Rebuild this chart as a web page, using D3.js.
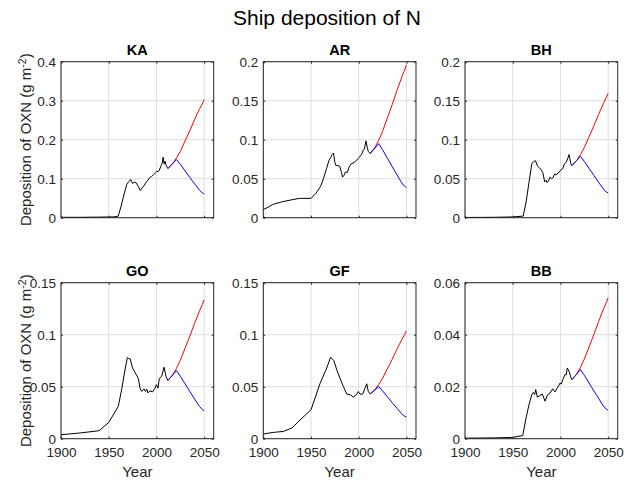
<!DOCTYPE html>
<html><head><meta charset="utf-8">
<script src="https://cdn.jsdelivr.net/npm/d3@7"></script>
<style>
body{margin:0;background:#fff}
svg{display:block}
text{font-family:"Liberation Sans",Arial,Helvetica,sans-serif}
</style>
</head><body>
<svg id="chart" width="624" height="483"></svg>
<script>
// ---------- data ----------
const chartTitle = "Ship deposition of N";
const regions = ["KA", "AR", "BH", "GO", "GF", "BB"];
const yMaxes = [0.4, 0.2, 0.2, 0.15, 0.15, 0.06];
const yTicksKA = [0, 0.1, 0.2, 0.3, 0.4];
const yTicksAR = [0, 0.05, 0.1, 0.15, 0.2];
const yTicksBH = [0, 0.05, 0.1, 0.15, 0.2];
const yTicksGO = [0, 0.05, 0.1, 0.15];
const yTicksGF = [0, 0.05, 0.1, 0.15];
const yTicksBB = [0, 0.02, 0.04, 0.06];
const xDomain = [1900, 2060];
const xTicks = [1900, 1950, 2000, 2050];
const yLabel = "Deposition of OXN (g m";
const yLabelSup = "-2";
const xLabel = "Year";

const histYearsKA = [1900,1920,1940,1955,1960,1963,1966,1969,1971,1973,1975,1977,1979,1981,1983,1985,1987,1989,1991,1993,1995,1997,1999,2000,2002,2003,2005,2006,2007,2008,2009,2010,2012];
const histValuesKA = [0.001,0.001,0.0015,0.002,0.004,0.03,0.06,0.086,0.092,0.098,0.088,0.091,0.089,0.08,0.07,0.076,0.082,0.09,0.096,0.103,0.106,0.11,0.116,0.119,0.118,0.122,0.134,0.14,0.155,0.138,0.145,0.135,0.126];

const histYearsAR = [1900,1905,1910,1920,1930,1938,1950,1955,1960,1963,1966,1969,1971,1972,1973.5,1975,1976,1978,1980,1982,1983,1985,1986,1988,1990,1992,1994,1996,1998,2000,2001,2002,2003,2005,2006,2007.5,2009,2010,2012];
const histValuesAR = [0.0103,0.0135,0.017,0.0205,0.023,0.0248,0.0248,0.031,0.040,0.05,0.062,0.074,0.078,0.081,0.083,0.071,0.067,0.067,0.066,0.058,0.052,0.055,0.0586,0.058,0.065,0.069,0.070,0.0715,0.074,0.077,0.078,0.080,0.081,0.0875,0.088,0.0985,0.09,0.085,0.0823];

const histYearsBH = [1900,1930,1950,1961,1964,1967,1970,1972,1974,1976,1978,1980,1981.5,1983.5,1985,1986,1987.5,1989,1990.5,1992,1994,1996,1998,2000,2001,2002.5,2004,2006,2008,2009,2010,2011,2012];
const histValuesBH = [0.0003,0.0005,0.001,0.002,0.02,0.045,0.069,0.072,0.073,0.066,0.064,0.061,0.058,0.046,0.048,0.045,0.047,0.052,0.05,0.051,0.056,0.055,0.058,0.06,0.062,0.063,0.069,0.071,0.077,0.081,0.075,0.069,0.0668];

const histYearsGO = [1900,1920,1940,1950,1960,1963.5,1967,1969.5,1971,1972.5,1975,1979,1981,1983,1984.5,1987,1988.5,1990,1991,1993,1996,1998.5,2000,2001.7,2003,2005.5,2008,2010,2012];
const histValuesGO = [0.0038,0.0055,0.0077,0.0156,0.031,0.047,0.066,0.078,0.077,0.0768,0.068,0.0614,0.058,0.0477,0.0454,0.048,0.0454,0.0475,0.044,0.046,0.045,0.0486,0.052,0.0486,0.058,0.06,0.0688,0.0598,0.056];

const histYearsGF = [1900,1910,1921,1930,1938.5,1950,1959.4,1966.4,1970.5,1974,1977,1980.4,1984,1987.4,1991.6,1994.3,1997.2,1999.6,2001.4,2004.2,2006.6,2008.4,2010,2012];
const histValuesGF = [0.0045,0.006,0.007,0.0103,0.018,0.0278,0.053,0.0678,0.0784,0.075,0.066,0.058,0.05,0.043,0.042,0.040,0.042,0.0454,0.0428,0.043,0.0486,0.0528,0.0454,0.043];

const histYearsBB = [1900,1930,1950,1960.5,1964,1967,1970,1971.6,1973,1974.1,1975.8,1978.6,1981,1983.9,1986.3,1989.1,1992,1994.3,1996.8,1999.6,2001,2002.4,2004.8,2006,2007.2,2009.4,2011,2012];
const histValuesBB = [0.0002,0.0003,0.0005,0.0012,0.008,0.013,0.017,0.0178,0.017,0.0189,0.016,0.0166,0.0172,0.0144,0.0168,0.0176,0.0192,0.018,0.0195,0.0214,0.021,0.0227,0.0247,0.0245,0.0272,0.0256,0.0235,0.0227];

const projYears = [2012, 2017, 2021, 2025, 2030, 2035, 2040, 2045, 2048, 2050];
const redKA  = [0.126, 0.138, 0.153, 0.170, 0.197, 0.223, 0.252, 0.278, 0.292, 0.303];
const blueKA = [0.126, 0.139, 0.149, 0.137, 0.120, 0.103, 0.087, 0.071, 0.064, 0.061];
const redAR  = [0.0823, 0.0903, 0.0994, 0.1107, 0.1278, 0.1448, 0.1630, 0.1801, 0.1892, 0.196];
const blueAR = [0.0823, 0.0893, 0.095, 0.0871, 0.0764, 0.0657, 0.0550, 0.0448, 0.0403, 0.0386];
const redBH  = [0.0668, 0.0733, 0.0807, 0.09, 0.1038, 0.1177, 0.1325, 0.1464, 0.1538, 0.1594];
const blueBH = [0.0668, 0.0734, 0.0788, 0.0722, 0.0632, 0.0543, 0.0453, 0.0368, 0.033, 0.0316];
const redGO  = [0.056, 0.0614, 0.0676, 0.0754, 0.087, 0.0986, 0.111, 0.1226, 0.1288, 0.1334];
const blueGO = [0.056, 0.0612, 0.0655, 0.0601, 0.0528, 0.0454, 0.0381, 0.0311, 0.0281, 0.0269];
const redGF  = [0.043, 0.0472, 0.0521, 0.0582, 0.0672, 0.0763, 0.086, 0.0951, 0.1, 0.1036];
const blueGF = [0.043, 0.0469, 0.050, 0.0459, 0.0404, 0.0348, 0.0293, 0.024, 0.0217, 0.0208];
const redBB  = [0.0227, 0.0249, 0.0274, 0.0306, 0.0353, 0.0400, 0.0451, 0.0498, 0.0523, 0.0542];
const blueBB = [0.0227, 0.0248, 0.0266, 0.0244, 0.0214, 0.0184, 0.0155, 0.0126, 0.0114, 0.0109];

// ---------- assemble ----------
const panels = [
  {name: regions[0], yMax: yMaxes[0], yTicks: yTicksKA, hy: histYearsKA, hv: histValuesKA, red: redKA, blue: blueKA},
  {name: regions[1], yMax: yMaxes[1], yTicks: yTicksAR, hy: histYearsAR, hv: histValuesAR, red: redAR, blue: blueAR},
  {name: regions[2], yMax: yMaxes[2], yTicks: yTicksBH, hy: histYearsBH, hv: histValuesBH, red: redBH, blue: blueBH},
  {name: regions[3], yMax: yMaxes[3], yTicks: yTicksGO, hy: histYearsGO, hv: histValuesGO, red: redGO, blue: blueGO},
  {name: regions[4], yMax: yMaxes[4], yTicks: yTicksGF, hy: histYearsGF, hv: histValuesGF, red: redGF, blue: blueGF},
  {name: regions[5], yMax: yMaxes[5], yTicks: yTicksBB, hy: histYearsBB, hv: histValuesBB, red: redBB, blue: blueBB}
];

// ---------- layout ----------
const colLeft = [61, 263.3, 465];
const rowTop = [61.7, 282.7];
const plotW = 152.7;
const plotH = 156;
const axisColor = "#262626";
const gridColor = "#dedede";

const svg = d3.select("#chart");

svg.append("text")
  .attr("x", 327).attr("y", 25)
  .attr("text-anchor", "middle")
  .attr("font-size", 21)
  .attr("fill", "#000")
  .text(chartTitle);

panels.forEach((p, i) => {
  const col = i % 3, row = Math.floor(i / 3);
  const g = svg.append("g").attr("transform", `translate(${colLeft[col]},${rowTop[row]})`);
  const x = d3.scaleLinear().domain(xDomain).range([0, plotW]);
  const y = d3.scaleLinear().domain([0, p.yMax]).range([plotH, 0]);

  // grid
  g.append("g").selectAll("line").data(xTicks).join("line")
    .attr("x1", d => x(d)).attr("x2", d => x(d))
    .attr("y1", 0).attr("y2", plotH)
    .attr("stroke", gridColor).attr("stroke-width", 1);
  g.append("g").selectAll("line").data(p.yTicks).join("line")
    .attr("x1", 0).attr("x2", plotW)
    .attr("y1", d => y(d)).attr("y2", d => y(d))
    .attr("stroke", gridColor).attr("stroke-width", 1);

  // data lines
  const line = d3.line().x(d => x(d[0])).y(d => y(d[1]));
  const hist = p.hy.map((yr, k) => [yr, p.hv[k]]);
  const red = projYears.map((yr, k) => [yr, p.red[k]]);
  const blue = projYears.map((yr, k) => [yr, p.blue[k]]);
  g.append("path").attr("d", line(hist)).attr("fill", "none").attr("stroke", "#000").attr("stroke-width", 1);
  g.append("path").attr("d", line(red)).attr("fill", "none").attr("stroke", "#ff0000").attr("stroke-width", 1);
  g.append("path").attr("d", line(blue)).attr("fill", "none").attr("stroke", "#0000ff").attr("stroke-width", 1);

  // axes
  const fontSize = 13.5;
  const xb = d3.axisBottom(x).tickValues(xTicks).tickSize(-2).tickPadding(9)
    .tickFormat(row === 1 ? d3.format("d") : () => "");
  const xt = d3.axisTop(x).tickValues(xTicks).tickSize(-2).tickFormat(() => "");
  const yl = d3.axisLeft(y).tickValues(p.yTicks).tickSize(-2).tickPadding(5).tickFormat(d => String(d));
  const yr = d3.axisRight(y).tickValues(p.yTicks).tickSize(-2).tickFormat(() => "");

  const styleAxis = sel => {
    sel.select(".domain").remove();
    sel.selectAll("line").attr("stroke", axisColor);
    sel.selectAll("text").attr("fill", axisColor).attr("font-size", fontSize)
      .attr("font-family", '"Liberation Sans",Arial,Helvetica,sans-serif');
  };
  g.append("g").attr("transform", `translate(0,${plotH})`).call(xb).call(styleAxis);
  g.append("g").call(xt).call(styleAxis);
  g.append("g").call(yl).call(styleAxis);
  g.append("g").attr("transform", `translate(${plotW},0)`).call(yr).call(styleAxis);

  // box
  g.append("rect").attr("x", 0).attr("y", 0).attr("width", plotW).attr("height", plotH)
    .attr("fill", "none").attr("stroke", axisColor).attr("stroke-width", 1);

  // panel title
  g.append("text").attr("x", plotW / 2).attr("y", -6.5)
    .attr("text-anchor", "middle").attr("font-weight", "bold").attr("font-size", 14.5)
    .attr("fill", "#000").text(p.name);

  // x label
  if (row === 1) {
    g.append("text").attr("x", plotW / 2).attr("y", plotH + 38)
      .attr("text-anchor", "middle").attr("font-size", 15).attr("fill", axisColor)
      .text(xLabel);
  }
  // y label
  if (col === 0) {
    const t = g.append("text")
      .attr("transform", `translate(${31 - colLeft[0]},${plotH / 2}) rotate(-90)`)
      .attr("text-anchor", "middle").attr("font-size", 15).attr("fill", axisColor);
    t.append("tspan").text(yLabel);
    t.append("tspan").attr("dy", -5.5).attr("font-size", 10.5).text(yLabelSup);
    t.append("tspan").attr("dy", 5.5).text(")");
  }
});
</script>
</body></html>
